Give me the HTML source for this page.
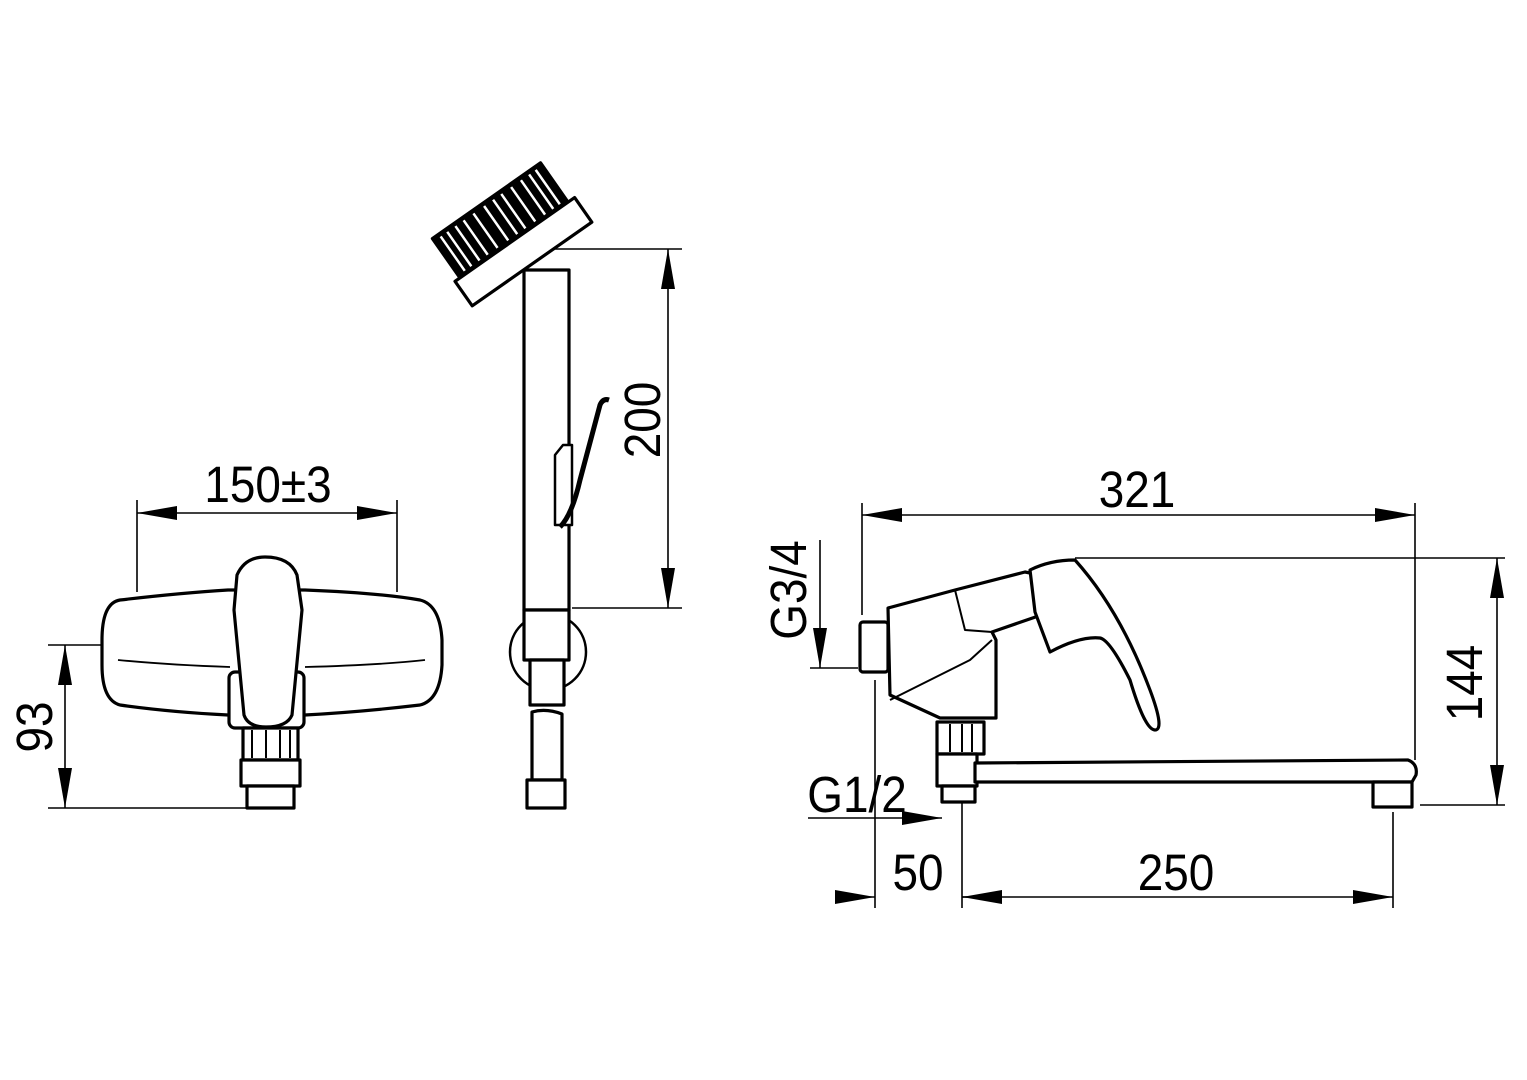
<!DOCTYPE html>
<html><head><meta charset="utf-8"><style>
html,body{margin:0;padding:0;background:#fff}
svg{display:block}
text{font-family:"Liberation Sans",sans-serif;font-size:51px;fill:#000}
</style></head><body>
<svg width="1527" height="1080" viewBox="0 0 1527 1080" xmlns="http://www.w3.org/2000/svg">
<defs>
<marker id="a" viewBox="0 0 40 14" refX="40" refY="7" markerWidth="40" markerHeight="14" markerUnits="userSpaceOnUse" orient="auto-start-reverse"><path d="M0,0 L40,7 L0,14 Z" fill="#000"/></marker>
</defs>
<g stroke="#000" fill="none" stroke-width="1.6">
<line x1="137" y1="500" x2="137" y2="592"/>
<line x1="397" y1="500" x2="397" y2="592"/>
<line x1="137" y1="513" x2="397" y2="513" marker-start="url(#a)" marker-end="url(#a)"/>
<line x1="48" y1="645" x2="110" y2="645"/>
<line x1="48" y1="808" x2="248" y2="808"/>
<line x1="65" y1="645" x2="65" y2="808" marker-start="url(#a)" marker-end="url(#a)"/>
<line x1="545" y1="249" x2="682" y2="249"/>
<line x1="572" y1="608" x2="682" y2="608"/>
<line x1="668" y1="249" x2="668" y2="608" marker-start="url(#a)" marker-end="url(#a)"/>
<line x1="862" y1="503" x2="862" y2="615"/>
<line x1="1415" y1="503" x2="1415" y2="760"/>
<line x1="862" y1="515" x2="1415" y2="515" marker-start="url(#a)" marker-end="url(#a)"/>
<line x1="1075" y1="558" x2="1505" y2="558"/>
<line x1="1420" y1="805" x2="1505" y2="805"/>
<line x1="1497" y1="558" x2="1497" y2="805" marker-start="url(#a)" marker-end="url(#a)"/>
<line x1="820" y1="540" x2="820" y2="668" marker-end="url(#a)"/>
<line x1="810" y1="668" x2="858" y2="668"/>
<line x1="808" y1="818" x2="942" y2="818" marker-end="url(#a)"/>
<line x1="875" y1="680" x2="875" y2="908"/>
<line x1="962" y1="800" x2="962" y2="908"/>
<line x1="1393" y1="812" x2="1393" y2="908"/>
<line x1="835" y1="897" x2="875" y2="897" marker-end="url(#a)"/>
<line x1="1002" y1="897" x2="962" y2="897" marker-end="url(#a)"/>
<line x1="962" y1="897" x2="1393" y2="897" marker-end="url(#a)"/>
</g>
<g>
<text transform="translate(268 502) scale(0.9 1)" text-anchor="middle">150±3</text>
<text transform="translate(52 727) rotate(-90) scale(0.9 1)" text-anchor="middle">93</text>
<text transform="translate(660 420) rotate(-90) scale(0.9 1)" text-anchor="middle">200</text>
<text transform="translate(1137 507) scale(0.9 1)" text-anchor="middle">321</text>
<text transform="translate(1482 683) rotate(-90) scale(0.9 1)" text-anchor="middle">144</text>
<text transform="translate(806 590) rotate(-90) scale(0.9 1)" text-anchor="middle">G3/4</text>
<text transform="translate(857 812) scale(0.9 1)" text-anchor="middle">G1/2</text>
<text transform="translate(918 890) scale(0.9 1)" text-anchor="middle">50</text>
<text transform="translate(1176 890) scale(0.9 1)" text-anchor="middle">250</text>
</g>
<g stroke="#000" fill="#fff" stroke-width="3.2" stroke-linejoin="round">
<path d="M120,600 Q180,593 228,590 L305,590 Q380,593 420,600 Q440,605 442,640 L442,665 Q440,700 420,705 Q360,712 305,715 L228,715 Q170,712 120,705 Q102,700 102,665 L102,640 Q102,603 120,600 Z"/>
<path d="M118,660 Q170,665 230,667 M305,667 Q380,665 425,660" fill="none" stroke-width="1.8"/>
<rect x="229" y="672" width="75" height="56" rx="6"/>
<path d="M237,575 Q245,557 265,557 Q290,557 297,575 L302,610 L292,715 Q287,727 266,727 Q248,727 244,715 L234,610 Z"/>
<rect x="243" y="728" width="55" height="32"/>
<path d="M252,730 V758 M266,730 V758 M280,730 V758 M290,730 V758" stroke-width="2"/>
<rect x="241" y="760" width="59" height="26"/>
<rect x="247" y="786" width="47" height="22"/>
<rect x="524" y="270" width="45" height="340"/>
<path d="M548,652 m-38,0 a38,38 0 1,0 76,0 a38,38 0 1,0 -76,0" stroke-width="2.5"/>
<rect x="524" y="610" width="45" height="50"/>
<rect x="530" y="660" width="34" height="45"/>
<path d="M532,712 Q546,708 562,714 V780 H532 Z"/>
<rect x="527" y="780" width="38" height="28"/>
<path d="M555,455 L563,445 L572,445 L572,525 L555,525 Z" stroke-width="2.5"/>
<path d="M560,527 Q572,515 580,480 L600,405 Q603,398 609,400" fill="none" stroke-width="5"/>
<g transform="translate(514,240) rotate(-35)">
<rect x="-66" y="-48" width="132" height="48" fill="#000"/>
<path d="M-58,-45 V-3 M-50,-45 V-3 M-40,-45 V-3 M-30,-45 V-3 M-18,-45 V-3 M-5,-45 V-3 M6,-45 V-3 M16,-45 V-3 M28,-45 V-3 M40,-45 V-3 M50,-45 V-3 M58,-45 V-3" stroke="#fff" stroke-width="2.5"/>
<rect x="-72" y="0" width="146" height="30"/>
</g>
<rect x="860" y="622" width="28" height="50" rx="3"/>
<path d="M888,608 L955,590 L1025,572 L1040,575 L1050,612 L992,632 L996,640 L996,718 L940,718 L890,695 Z"/>
<path d="M955,590 L965,630 L992,632 M890,700 L970,660 L992,640" fill="none" stroke-width="2"/>
<path d="M1030,570 Q1050,560 1075,560 Q1120,610 1150,690 Q1165,730 1155,730 Q1145,730 1130,680 Q1110,640 1100,638 Q1080,636 1050,652 L1035,612 Z"/>
<rect x="937" y="722" width="47" height="32"/>
<path d="M950,724 V752 M962,724 V752 M972,724 V752" stroke-width="2"/>
<rect x="937" y="754" width="40" height="32"/>
<rect x="942" y="786" width="33" height="16"/>
<path d="M975,763 L1408,760 Q1418,764 1416,775 L1412,782 L975,782 Z"/>
<rect x="1373" y="782" width="39" height="25"/>
</g>
</svg>
</body></html>
